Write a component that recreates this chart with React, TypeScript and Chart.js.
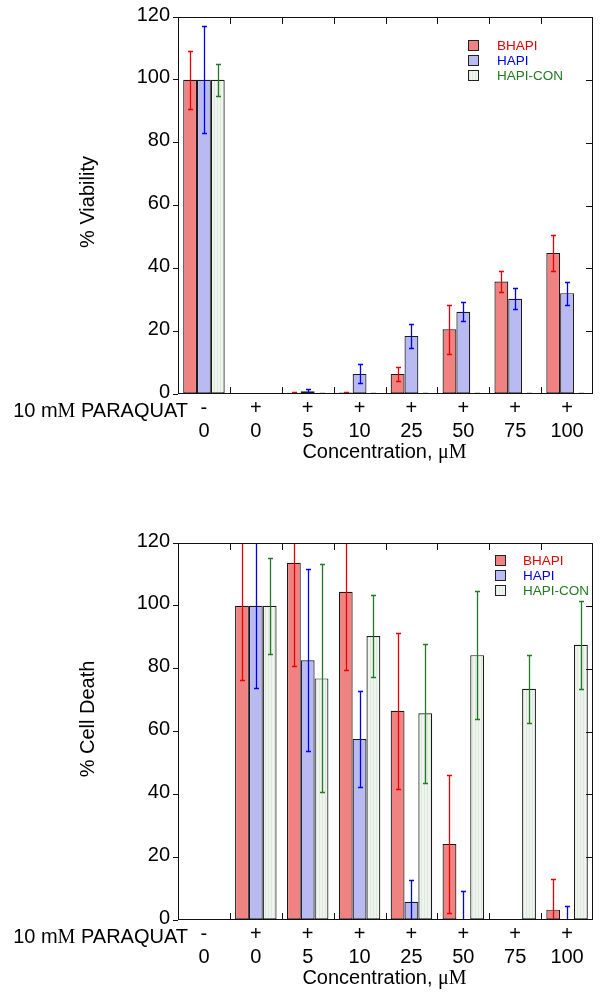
import React, { useEffect, useRef } from 'react';
import { Chart, registerables } from 'chart.js';

Chart.register(...registerables);

// ---------- data ----------
const paraquatSigns = ['-', '+', '+', '+', '+', '+', '+', '+'];
const concentrations = ['0', '0', '5', '10', '25', '50', '75', '100'];
const seriesNames = ['BHAPI', 'HAPI', 'HAPI-CON'];

// % Viability
const viabBHAPI = [100, null, 0.4, 0.5, 6.4, 20.6, 35.8, 44.9];
const viabBHAPIErr = [9.2, 0, 0.2, 0.2, 2.3, 7.8, 3.3, 5.8];
const viabHAPI = [100, null, 0.9, 6.4, 18.5, 26.2, 30.3, 32.1];
const viabHAPIErr = [17, 0, 0.7, 3.0, 3.8, 3.0, 3.4, 3.7];
const viabCON = [100, null, 0.3, 0.3, 0.3, 0.2, 0.3, 0.3];
const viabCONErr = [5, 0, 0.1, 0.1, 0.1, 0.1, 0.1, 0.1];

// % Cell Death
const deathBHAPI = [null, 100, 113.7, 104.5, 66.6, 24.2, null, 3.3];
const deathBHAPIErr = [0, 23.6, 33.0, 24.8, 24.9, 22.0, 0, 9.9];
const deathHAPI = [null, 100, 82.7, 57.6, 5.8, 0, null, 0];
const deathHAPIErr = [0, 26.0, 29.0, 15.4, 6.9, 9.1, 0, 4.4];
const deathCON = [null, 100, 76.9, 90.4, 65.8, 84.3, 73.6, 87.6];
const deathCONErr = [0, 15.2, 36.3, 13.2, 22.1, 20.3, 10.9, 14.0];

const yMin = 0;
const yMax = 120;
const yStep = 20;

// ---------- styles ----------
const SANS = '"Liberation Sans", Arial, sans-serif';
const SERIF = '"Liberation Serif", "Times New Roman", serif';
const FILL_BHAPI = 'rgb(240,130,130)';
const FILL_HAPI = 'rgb(186,186,242)';
const ERR_COLORS = ['#e80000', '#0000e8', '#237a23'];
const TEXT_COLORS = ['#e80000', '#0000e8', '#237a23'];

function makeConPattern(): CanvasPattern | string {
  const c = document.createElement('canvas');
  c.width = 3;
  c.height = 2;
  const g = c.getContext('2d');
  if (!g) return '#eef3ee';
  g.fillStyle = '#eff4ef';
  g.fillRect(0, 0, 3, 2);
  g.fillStyle = '#dde9dd';
  g.fillRect(1, 0, 1, 2);
  const p = g.createPattern(c, 'repeat');
  return p || '#eef3ee';
}

function drawMixed(ctx: CanvasRenderingContext2D, parts: [string, string][], x: number, y: number, align: 'left' | 'right' | 'center', size: number) {
  const widths = parts.map(([t, f]) => {
    ctx.font = `${size}px ${f}`;
    return ctx.measureText(t).width;
  });
  const total = widths.reduce((a, b) => a + b, 0);
  let cx = align === 'left' ? x : align === 'right' ? x - total : x - total / 2;
  ctx.textAlign = 'left';
  parts.forEach(([t, f], i) => {
    ctx.font = `${size}px ${f}`;
    ctx.fillText(t, cx, y);
    cx += widths[i];
  });
}

const overlayPlugin = {
  id: 'overlay',
  afterDatasetsDraw(chart: any, _args: any, opts: any) {
    const ctx = chart.ctx as CanvasRenderingContext2D;
    const area = chart.chartArea;
    const yScale = chart.scales.y;
    ctx.save();
    ctx.beginPath();
    ctx.rect(area.left, area.top, area.right - area.left, area.bottom - area.top);
    ctx.clip();
    ctx.lineWidth = 1.3;
    chart.data.datasets.forEach((ds: any, d: number) => {
      const meta = chart.getDatasetMeta(d);
      const errs: number[] = opts.errors[d];
      ds.data.forEach((v: number | null, i: number) => {
        if (v === null || v === undefined) return;
        const e = errs[i];
        if (!e) return;
        const el = meta.data[i];
        const x = Math.round(el.x) + 0.5;
        const yt = Math.round(yScale.getPixelForValue(v + e)) + 0.5;
        const yb = Math.round(yScale.getPixelForValue(v - e)) + 0.5;
        ctx.strokeStyle = ERR_COLORS[d];
        ctx.beginPath();
        ctx.moveTo(x, yt);
        ctx.lineTo(x, yb);
        ctx.moveTo(x - 2.5, yt);
        ctx.lineTo(x + 2.5, yt);
        ctx.moveTo(x - 2.5, yb);
        ctx.lineTo(x + 2.5, yb);
        ctx.stroke();
      });
    });
    ctx.restore();
  },
  afterDraw(chart: any, _args: any, opts: any) {
    const ctx = chart.ctx as CanvasRenderingContext2D;
    const area = chart.chartArea;
    const xScale = chart.scales.x;
    const yScale = chart.scales.y;
    ctx.save();
    ctx.strokeStyle = '#111';
    ctx.lineWidth = 1;
    // frame
    ctx.strokeRect(Math.round(area.left) + 0.5, Math.round(area.top) + 0.5, Math.round(area.right - area.left) - 1, Math.round(area.bottom - area.top) - 1);
    // right inner y ticks
    ctx.beginPath();
    for (let v = yMin + yStep; v < yMax; v += yStep) {
      const y = Math.round(yScale.getPixelForValue(v)) + 0.5;
      ctx.moveTo(area.right - 7, y);
      ctx.lineTo(area.right, y);
    }
    // x ticks at group boundaries (inside, top & bottom)
    const n = chart.data.labels.length;
    for (let i = 1; i < n; i++) {
      const xb = Math.round((xScale.getPixelForValue(i - 1) + xScale.getPixelForValue(i)) / 2) + 0.5;
      ctx.moveTo(xb, area.top);
      ctx.lineTo(xb, area.top + 7);
      ctx.moveTo(xb, area.bottom);
      ctx.lineTo(xb, area.bottom - 7);
    }
    ctx.stroke();

    // x labels
    ctx.fillStyle = '#000';
    ctx.textAlign = 'center';
    ctx.font = `20px ${SANS}`;
    for (let i = 0; i < n; i++) {
      const x = xScale.getPixelForValue(i);
      ctx.textBaseline = 'middle';
      ctx.fillText(paraquatSigns[i], x, area.bottom + 14);
      ctx.textBaseline = 'alphabetic';
      ctx.fillText(concentrations[i], x, area.bottom + 43);
    }
    ctx.textBaseline = 'alphabetic';
    drawMixed(ctx, [['10 m', SANS], ['M', SERIF], [' PARAQUAT', SANS]], 188, area.bottom + 23, 'right', 20);
    drawMixed(ctx, [['Concentration, ', SANS], ['\u03bcM', SERIF]], (area.left + area.right) / 2 - 1, area.bottom + 64, 'center', 20);

    // y title
    ctx.save();
    ctx.translate(88, opts.yTitleY);
    ctx.rotate(-Math.PI / 2);
    ctx.textAlign = 'center';
    ctx.textBaseline = 'middle';
    ctx.font = `20px ${SANS}`;
    ctx.fillText(opts.yTitle, 0, 0);
    ctx.restore();

    // legend
    const lg = opts.legend;
    chart.data.datasets.forEach((ds: any, d: number) => {
      const cy = lg.y + d * 15;
      ctx.fillStyle = ds.backgroundColor;
      ctx.fillRect(lg.boxX, Math.round(cy - 5.5), 11, 11);
      ctx.strokeStyle = '#222';
      ctx.strokeRect(lg.boxX + 0.5, Math.round(cy - 5.5) + 0.5, 10, 10);
      ctx.fillStyle = TEXT_COLORS[d];
      ctx.font = `13.5px ${SANS}`;
      ctx.textAlign = 'left';
      ctx.textBaseline = 'middle';
      ctx.fillText(ds.label, lg.textX, cy + 0.5);
    });
    ctx.restore();
  },
};

type PanelProps = {
  a: (number | null)[];
  b: (number | null)[];
  c: (number | null)[];
  ea: number[];
  eb: number[];
  ec: number[];
  yTitle: string;
  yTitleY: number;
  padTop: number;
  xHeight: number;
  legend: { boxX: number; textX: number; y: number };
};

function Panel(p: PanelProps) {
  const ref = useRef<HTMLCanvasElement | null>(null);
  useEffect(() => {
    if (!ref.current) return;
    const pattern = makeConPattern();
    const chart = new Chart(ref.current, {
      type: 'bar',
      data: {
        labels: concentrations.map((c, i) => `${paraquatSigns[i]} ${c}`),
        datasets: [
          { label: seriesNames[0], data: p.a, backgroundColor: FILL_BHAPI, borderColor: '#1a1a1a', borderWidth: 1.2, borderSkipped: false },
          { label: seriesNames[1], data: p.b, backgroundColor: FILL_HAPI, borderColor: '#1a1a1a', borderWidth: 1.2, borderSkipped: false },
          { label: seriesNames[2], data: p.c, backgroundColor: pattern as any, borderColor: '#1a1a1a', borderWidth: 1.2, borderSkipped: false },
        ] as any,
      },
      options: {
        responsive: false,
        animation: false,
        devicePixelRatio: 1,
        layout: { padding: { top: p.padTop, right: 9, left: 0, bottom: 0 } },
        datasets: { bar: { categoryPercentage: 0.8, barPercentage: 1.0 } },
        plugins: {
          legend: { display: false },
          tooltip: { enabled: false },
          overlay: { errors: [p.ea, p.eb, p.ec], yTitle: p.yTitle, yTitleY: p.yTitleY, legend: p.legend },
        } as any,
        scales: {
          x: {
            grid: { display: false },
            border: { display: false },
            ticks: { display: false },
            afterFit: (s: any) => { s.height = p.xHeight; },
          },
          y: {
            min: yMin,
            max: yMax,
            grid: { display: true, drawOnChartArea: false, drawTicks: true, tickLength: 5, color: '#111' },
            border: { display: false },
            ticks: { stepSize: yStep, color: '#000', font: { family: SANS, size: 20 }, padding: 3, labelOffset: -2 },
            afterFit: (s: any) => { s.width = 178; },
          },
        },
      } as any,
      plugins: [overlayPlugin as any],
    });
    return () => chart.destroy();
  }, []);
  return <canvas ref={ref} width={602} height={497} style={{ display: 'block', width: 602, height: 497 }} />;
}

export default function App() {
  return (
    <div style={{ position: 'absolute', left: 0, top: 0, width: 602, height: 994, background: '#fff' }}>
      <Panel a={viabBHAPI} b={viabHAPI} c={viabCON} ea={viabBHAPIErr} eb={viabHAPIErr} ec={viabCONErr}
        yTitle="% Viability" yTitleY={202} padTop={17} xHeight={103}
        legend={{ boxX: 468, textX: 497, y: 45.5 }} />
      <Panel a={deathBHAPI} b={deathHAPI} c={deathCON} ea={deathBHAPIErr} eb={deathHAPIErr} ec={deathCONErr}
        yTitle="% Cell Death" yTitleY={222} padTop={46} xHeight={74}
        legend={{ boxX: 495, textX: 523, y: 63.5 }} />
    </div>
  );
}
